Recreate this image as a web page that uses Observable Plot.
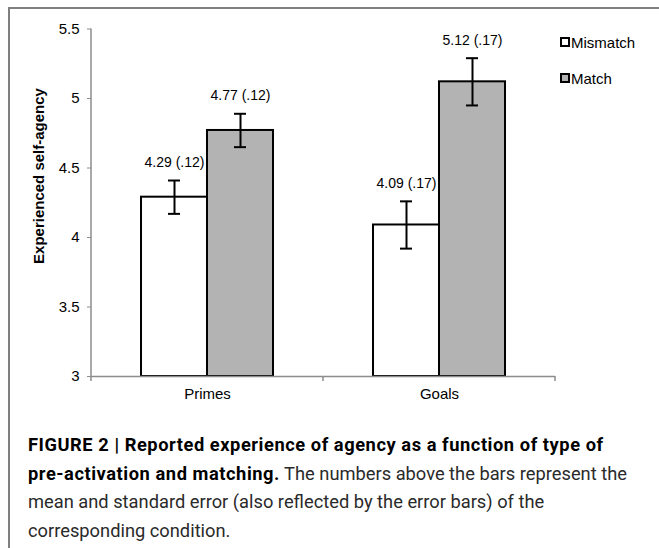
<!DOCTYPE html>
<html>
<head>
<meta charset="utf-8">
<script src="https://cdn.jsdelivr.net/npm/d3@7"></script>
<script src="https://cdn.jsdelivr.net/npm/@observablehq/plot@0.6"></script>
<style>
  html, body { margin: 0; padding: 0; background: #fff; }
  body { width: 659px; height: 548px; overflow: hidden; position: relative;
         font-family: "Liberation Sans", Arial, Helvetica, sans-serif; }
  #frame { position: absolute; left: 8px; top: 7px; width: 800px; height: 700px;
           border-top: 2px solid #7f7f7f; border-left: 2px solid #7f7f7f; }
  #chart { position: absolute; left: 0; top: 0; }
  #ytitle { position: absolute; left: 38px; top: 176px; transform: translate(-50%, -50%) rotate(-90deg);
            font-weight: bold; font-size: 15px; white-space: nowrap; color: #000; }
  #legend { position: absolute; left: 560px; top: 0; font-size: 15px; color: #000; }
  .item { position: absolute; left: 0; display: flex; align-items: center; white-space: nowrap; height: 20px; }
  .sw { width: 6px; height: 6px; border: 2px solid #000; margin-right: 1px; }
  #caption { position: absolute; left: 28px; top: 431px; font-size: 18.3px; line-height: 28.5px; letter-spacing: 0;
             font-family: "Roboto", "Liberation Sans", sans-serif; color: #2a2a2a; white-space: nowrap; }
  #caption b { color: #000; letter-spacing: 0.55px; }
</style>
</head>
<body>
<div id="frame"></div>
<div id="chart"></div>
<div id="ytitle">Experienced self-agency</div>
<div id="legend"></div>
<div id="caption"><b>FIGURE 2 | Reported experience of agency as a function of type of</b><br><b>pre-activation and matching.</b> The numbers above the bars represent the<br>mean and standard error (also reflected by the error bars) of the<br>corresponding condition.</div>
<script>
const categories = ["Primes", "Goals"];
const conditions = ["Mismatch", "Match"];
const mismatchMeans = [4.29, 4.09];
const matchMeans = [4.77, 5.12];
const mismatchSE = [0.12, 0.17];
const matchSE = [0.12, 0.17];
const yTicks = [3, 3.5, 4, 4.5, 5, 5.5];
const fills = ["#ffffff", "#b3b3b3"];

const rows = [];
categories.forEach((c, i) => {
  rows.push({category: c, condition: "Mismatch", mean: mismatchMeans[i], se: mismatchSE[i]});
  rows.push({category: c, condition: "Match", mean: matchMeans[i], se: matchSE[i]});
});
const fmt = d => `${d.mean.toFixed(2)} (${d.se.toFixed(2).replace(/^0/, "")})`;

const plot = Plot.plot({
  width: 659,
  height: 410,
  marginLeft: 90,
  marginRight: 104,
  marginTop: 28.5,
  marginBottom: 34,
  style: {fontFamily: "'Liberation Sans', Arial, sans-serif", fontSize: "15px", background: "transparent", color: "#000"},
  fx: {domain: categories, padding: 0, label: null},
  x: {domain: conditions, paddingInner: 0, paddingOuter: 0.75, axis: null},
  y: {domain: [3, 5.5], label: null},
  color: {domain: conditions, range: fills},
  marks: [
    Plot.barY(rows, {fx: "category", x: "condition", y1: 3, y2: "mean", fill: "condition", stroke: "#000", strokeWidth: 2}),
    Plot.ruleY([3], {stroke: "#8c8c8c", strokeWidth: 1.5}),
    Plot.ruleX(rows, {fx: "category", x: "condition", y1: d => d.mean - d.se, y2: d => d.mean + d.se, stroke: "#000", strokeWidth: 2}),
    Plot.tickY(rows, {fx: "category", x: "condition", y: d => d.mean - d.se, insetLeft: 27, insetRight: 27, stroke: "#000", strokeWidth: 2}),
    Plot.tickY(rows, {fx: "category", x: "condition", y: d => d.mean + d.se, insetLeft: 27, insetRight: 27, stroke: "#000", strokeWidth: 2}),
    Plot.text(rows, {fx: "category", x: "condition", y: d => d.mean + d.se, text: fmt, dy: -18, fontSize: 14, fill: "#000"}),
    Plot.axisY({ticks: yTicks, tickFormat: d => String(d), tickSize: 4, tickPadding: 8, stroke: "#8c8c8c", fill: "#000", label: null, fontSize: 15}),
    Plot.axisFx({anchor: "bottom", tickSize: 0, tickPadding: 12, label: null, fontSize: 15, fill: "#000"})
  ]
});
document.getElementById("chart").appendChild(plot);

// axis line and boundary ticks, placed with the plot's own scales
const fxs = plot.scale("fx");
const ys = plot.scale("y");
const edges = categories.map(c => fxs.apply(c)).concat([fxs.apply(categories[categories.length - 1]) + fxs.bandwidth]);
const y0 = ys.apply(3);
const g = d3.select(plot).append("g").attr("stroke", "#8c8c8c").attr("stroke-width", 1.5);
g.selectAll("line.edge").data(edges).join("line").attr("class", "edge")
  .attr("x1", d => d).attr("x2", d => d)
  .attr("y1", y0).attr("y2", y0 + 5);
g.append("line")
  .attr("x1", edges[0]).attr("x2", edges[0])
  .attr("y1", ys.apply(yTicks[yTicks.length - 1])).attr("y2", y0);

// legend
const legend = d3.select("#legend");
conditions.forEach((c, i) => {
  const it = legend.append("div").attr("class", "item").style("top", (32 + i * 36) + "px");
  it.append("div").attr("class", "sw").style("background", fills[i]);
  it.append("span").text(c);
});
</script>
</body>
</html>
